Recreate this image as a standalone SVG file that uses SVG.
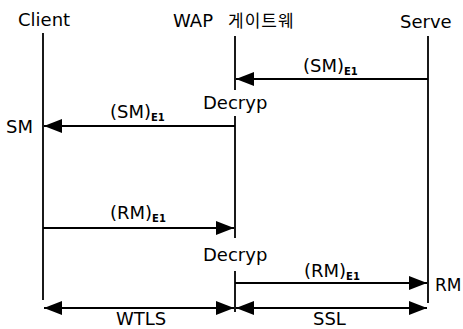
<svg xmlns="http://www.w3.org/2000/svg" width="463" height="329" viewBox="0 0 463 329">
<style>
text{font-family:"DejaVu Sans","Noto Sans CJK KR",sans-serif;font-size:18px;fill:#000}
.ko{font-family:"Noto Sans CJK KR",sans-serif;font-size:17px;letter-spacing:1px}
.sub{font-size:10px;font-weight:bold}
.life{stroke:#000;stroke-width:1.8;fill:none}
.msg{stroke:#000;stroke-width:2;fill:none}
</style>
<defs>
<marker id="ah" viewBox="0 0 18 14" refX="18" refY="7" markerWidth="18" markerHeight="14" markerUnits="userSpaceOnUse" orient="auto-start-reverse">
<path d="M0,0 L18,7 L0,14 Z" fill="#000"/>
</marker>
</defs>
<rect width="463" height="329" fill="#fff"/>
<g id="client">
<text x="18" y="26">Client</text>
<line class="life" x1="43" y1="33" x2="43" y2="300"/>
<text x="6" y="133">SM</text>
</g>
<g id="wap">
<text x="173" y="27">WAP</text>
<text class="ko" x="228" y="27">게이트웨</text>
<line class="life" x1="235" y1="36" x2="235" y2="90"/>
<text x="203" y="109">Decryp</text>
<line class="life" x1="235" y1="116" x2="235" y2="238"/>
<text x="203" y="261">Decryp</text>
<line class="life" x1="235" y1="271" x2="235" y2="312"/>
</g>
<g id="server">
<text x="400" y="28">Serve</text>
<line class="life" x1="428" y1="36" x2="428" y2="303"/>
<text x="435" y="291" style="font-size:17px">RM</text>
</g>
<g id="connectors">
<line class="msg" x1="428" y1="79" x2="236" y2="79" marker-end="url(#ah)"/>
<text x="303" y="72">(SM)<tspan class="sub" dy="3">E1</tspan></text>
<line class="msg" x1="235" y1="126" x2="44" y2="126" marker-end="url(#ah)"/>
<text x="110" y="118">(SM)<tspan class="sub" dy="3">E1</tspan></text>
<line class="msg" x1="43" y1="228" x2="234" y2="228" marker-end="url(#ah)"/>
<text x="110" y="219">(RM)<tspan class="sub" dy="3">E1</tspan></text>
<line class="msg" x1="235" y1="283" x2="427" y2="283" marker-end="url(#ah)"/>
<text x="304" y="277">(RM)<tspan class="sub" dy="3">E1</tspan></text>
<line class="msg" x1="44" y1="308" x2="234" y2="308" marker-start="url(#ah)" marker-end="url(#ah)"/>
<text x="116" y="325">WTLS</text>
<line class="msg" x1="236" y1="308" x2="427" y2="308" marker-start="url(#ah)" marker-end="url(#ah)"/>
<text x="313" y="325">SSL</text>
</g>
</svg>
